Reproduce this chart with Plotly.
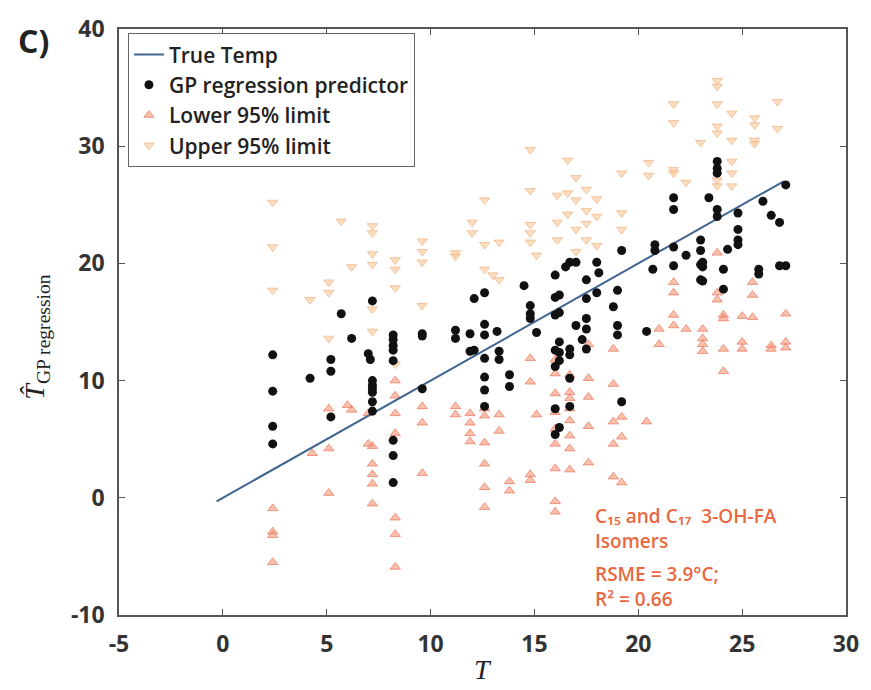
import plotly.graph_objects as go

# ---------------- data ----------------
true_x = [-0.3, 27.0]
true_y = [-0.3, 27.0]

gp_x = [2.4, 2.4, 2.4, 2.4, 4.2, 5.2, 5.2, 5.2, 5.7, 6.2, 7.0, 7.1,
        7.2, 7.2, 7.2, 7.2, 7.2, 7.2, 7.2,
        8.2, 8.2, 8.2, 8.2, 8.2, 8.2, 8.2, 8.2,
        9.6, 9.6, 9.6, 11.2, 11.2, 11.9, 11.9, 12.1, 12.1,
        12.6, 12.6, 12.6, 12.6, 12.6, 12.6, 12.6,
        13.2, 13.3, 13.3, 13.8, 13.8, 14.5, 14.8, 14.8, 14.8, 15.1,
        16.0, 16.0, 16.0, 16.0, 16.0, 16.0, 16.0,
        16.2, 16.2, 16.2, 16.2, 16.2, 16.2, 16.5,
        16.7, 16.7, 16.7, 16.7, 16.7, 17.0, 17.0, 17.3,
        17.5, 17.5, 17.5, 17.5, 17.5, 18.0, 18.0, 18.1, 18.8,
        19.0, 19.0, 19.0, 19.2, 19.2, 20.4, 20.7, 20.8, 20.8,
        21.7, 21.7, 21.7, 21.7, 22.3,
        23.0, 23.0, 23.0, 23.0, 23.1, 23.1, 23.1, 23.4,
        23.8, 23.8, 23.8, 23.8, 23.8, 24.1, 24.1, 24.3,
        24.8, 24.8, 24.8, 24.8, 25.8, 25.8, 26.0, 26.4, 26.8, 26.8, 27.1, 27.1]
gp_y = [12.2, 9.1, 6.1, 4.6, 10.2, 11.8, 10.8, 6.9, 15.7, 13.6, 12.3, 11.8,
        16.8, 10.0, 9.6, 9.3, 9.0, 8.2, 7.4,
        13.9, 13.5, 13.0, 12.6, 11.7, 4.9, 3.6, 1.3,
        14.0, 13.8, 9.3, 14.3, 13.6, 14.0, 12.5, 17.0, 12.6,
        17.5, 14.8, 13.9, 11.9, 10.3, 9.2, 7.8,
        14.2, 12.5, 11.8, 10.5, 9.5, 18.1, 16.4, 15.7, 15.3, 14.1,
        19.0, 17.1, 15.6, 12.6, 11.2, 7.6, 5.4,
        17.3, 15.8, 13.3, 12.4, 11.7, 6.0, 19.7,
        20.1, 12.7, 12.2, 10.2, 7.8, 20.1, 14.7, 13.5,
        18.6, 17.0, 15.3, 14.4, 12.7, 20.1, 17.5, 19.2, 16.3,
        17.7, 14.7, 13.9, 21.1, 8.2, 14.2, 19.5, 21.6, 21.1,
        25.6, 24.6, 21.4, 19.8, 20.7,
        22.0, 21.1, 19.9, 18.6, 20.1, 19.7, 18.5, 25.6,
        28.7, 28.1, 27.7, 24.6, 24.0, 19.5, 17.8, 21.2,
        24.3, 22.9, 22.0, 21.6, 19.5, 19.1, 25.3, 24.1, 23.5, 19.8, 26.7, 19.8]

low_x = [2.4, 2.4, 2.4, 2.4, 4.3, 5.1, 5.1, 5.1, 6.0, 6.2, 7.0, 7.0,
         7.2, 7.2, 7.2, 7.2, 7.2,
         8.3, 8.3, 8.3, 8.3, 8.3, 8.3, 8.3,
         9.6, 9.6, 9.6, 11.2, 11.2, 11.9, 11.9, 11.9, 11.9,
         12.6, 12.6, 12.6, 12.6, 12.6, 12.6, 13.3, 13.3, 13.8, 13.8,
         14.8, 14.8, 14.8, 14.8, 15.1,
         16.0, 16.0, 16.0, 16.0, 16.0, 16.0, 16.0, 16.0, 16.0,
         16.7, 16.7, 16.7, 16.7, 16.7, 16.7, 16.7, 16.7,
         17.6, 17.6, 17.6, 17.6, 17.6,
         18.8, 18.8, 18.8, 18.8, 18.8, 19.2, 19.2, 19.2, 20.4,
         21.0, 21.0, 21.7, 21.7, 21.7, 21.7, 22.3,
         23.1, 23.1, 23.1, 23.1, 23.8, 23.8, 23.8,
         24.1, 24.1, 24.1, 24.1, 25.0, 25.0, 25.0, 25.5, 25.5, 25.5,
         26.4, 26.4, 27.1, 27.1, 27.1]
low_y = [-0.9, -2.9, -3.2, -5.5, 3.8, 7.6, 4.2, 0.4, 7.9, 7.5, 7.2, 4.6,
         4.4, 2.9, 2.0, 1.2, -0.5,
         10.0, 8.7, 7.2, 5.5, -1.7, -3.1, -5.9,
         7.8, 6.4, 2.1, 7.8, 7.1, 7.2, 6.4, 5.5, 4.8,
         7.6, 7.0, 4.7, 2.9, 0.9, -0.8, 7.1, 5.7, 1.4, 0.6,
         11.9, 9.9, 2.0, 1.5, 7.1,
         11.8, 10.6, 8.9, 7.3, 5.9, 4.6, 2.5, -0.3, -1.2,
         10.5, 9.0, 8.5, 7.6, 6.6, 5.3, 4.2, 2.4,
         13.1, 10.2, 8.6, 6.1, 3.0,
         12.7, 9.7, 6.5, 4.6, 1.8, 6.9, 5.2, 1.3, 6.5,
         14.4, 13.1, 18.4, 17.5, 15.6, 14.7, 14.4,
         14.4, 13.6, 13.1, 12.5, 20.9, 17.5, 16.9,
         15.6, 15.3, 12.7, 10.8, 15.5, 13.3, 12.7, 18.4, 17.3, 15.4,
         13.0, 12.7, 15.7, 13.3, 12.8]

up_x = [2.4, 2.4, 2.4, 4.2, 5.1, 5.1, 5.1, 5.7, 6.2,
        7.2, 7.2, 7.2, 7.2, 7.2, 7.2, 8.3, 8.3, 8.3, 8.3,
        9.6, 9.6, 9.6, 9.6, 11.2, 11.2, 12.0, 12.0, 12.6, 12.6, 12.6,
        13.0, 13.3, 13.3, 14.8, 14.8, 14.8, 14.8, 14.8, 15.1,
        16.1, 16.1, 16.1, 16.6, 16.6, 16.6, 17.0, 17.0, 17.0, 17.0,
        17.5, 17.5, 17.5, 17.5, 18.0, 18.0, 18.0, 19.2, 19.2, 19.2,
        20.5, 20.5, 21.7, 21.7, 21.7, 21.7, 22.3, 23.0,
        23.8, 23.8, 23.8, 23.8, 23.8, 23.8, 23.8,
        24.5, 24.5, 24.5, 24.5, 24.5, 25.6, 25.6, 25.6, 25.6, 26.7, 26.7]
up_y = [25.2, 21.4, 17.7, 16.9, 18.4, 17.5, 13.6, 23.6, 19.7,
        23.2, 22.6, 20.8, 19.9, 16.1, 14.2, 20.3, 19.5, 17.9, 11.4,
        21.9, 21.0, 20.1, 16.4, 20.9, 20.6, 23.5, 22.6, 25.4, 21.6, 19.5,
        19.0, 21.8, 18.6, 29.7, 26.2, 23.3, 22.6, 21.8, 20.7,
        25.8, 23.5, 22.0, 28.8, 26.0, 24.2, 27.3, 25.4, 22.9, 21.0,
        26.3, 24.5, 23.4, 22.0, 25.5, 24.0, 21.5, 27.7, 24.3, 22.9,
        28.6, 27.5, 33.6, 32.0, 28.0, 27.7, 26.9, 30.3,
        35.6, 35.1, 33.6, 31.7, 31.1, 27.1, 26.6,
        32.8, 30.5, 28.7, 27.7, 26.6, 32.4, 30.5, 30.2, 31.8, 33.8, 31.5]

x_ticks = [-5, 0, 5, 10, 15, 20, 25, 30]
x_ticklabels = ["-5", "0", "5", "10", "15", "20", "25", "30"]
y_ticks = [-10, 0, 10, 20, 30, 40]
y_ticklabels = ["-10", "0", "10", "20", "30", "40"]

# ---------------- figure ----------------
fig = go.Figure()

fig.add_trace(go.Scatter(
    x=low_x, y=low_y, mode="markers", name="Lower 95% limit", legendgroup="c", legendrank=3,
    marker=dict(symbol="triangle-up", size=9, color="rgba(244,140,105,0.55)",
                line=dict(color="rgba(232,100,70,0.6)", width=1))))
fig.add_trace(go.Scatter(
    x=up_x, y=up_y, mode="markers", name="Upper 95% limit", legendgroup="d", legendrank=4,
    marker=dict(symbol="triangle-down", size=9, color="rgba(247,195,140,0.55)",
                line=dict(color="rgba(235,170,120,0.6)", width=1))))
fig.add_trace(go.Scatter(
    x=true_x, y=true_y, mode="lines", name="True Temp", legendgroup="a", legendrank=1,
    line=dict(color="#3f6590", width=2)))
fig.add_trace(go.Scatter(
    x=gp_x, y=gp_y, mode="markers", name="GP regression predictor", legendgroup="b", legendrank=2,
    marker=dict(symbol="circle", size=9, color="#111111")))

tickfont = dict(family="Open Sans", size=23, color="#333333", weight=700)
axis_common = dict(showline=True, linecolor="#555555", linewidth=1.5, mirror="ticks",
                   ticks="inside", ticklen=6, tickcolor="#555555", showgrid=False,
                   zeroline=False, tickfont=tickfont, ticklabelstandoff=8)

fig.update_layout(
    width=871, height=690,
    margin=dict(l=119, r=18, t=25, b=75),
    paper_bgcolor="white", plot_bgcolor="white",
    xaxis=dict(range=[-5, 30], tickvals=x_ticks, ticktext=x_ticklabels, **axis_common),
    yaxis=dict(range=[-10, 40], tickvals=y_ticks, ticktext=y_ticklabels, **axis_common),
    legend=dict(x=0.012, y=0.993, xanchor="left", yanchor="top",
                bgcolor="white", bordercolor="#666666", borderwidth=1.2,
                font=dict(family="Open Sans", size=21, color="#222222", weight=600),
                tracegroupgap=0, itemwidth=30),
    showlegend=True,
)

ann_color = "#e9683f"
ann_font = dict(family="Open Sans", size=19, color=ann_color, weight=600)
anns = [
    dict(text="C\u2081\u2085 and C\u2081\u2087  3-OH-FA<br>Isomers", x=598, y=528),
    dict(text="RSME = 3.9°C;<br>R\u00b2 = 0.66", x=598, y=586),
]
for a in anns:
    fig.add_annotation(text=a["text"], xref="paper", yref="paper",
                       x=(a["x"] - 119) / 734, y=(615 - a["y"]) / 590,
                       xanchor="left", yanchor="middle", align="left",
                       showarrow=False, font=ann_font)

# panel label
fig.add_annotation(text="<b>C)</b>", xref="paper", yref="paper",
                   x=(33 - 119) / 734, y=(615 - 37) / 590, xanchor="center", yanchor="middle",
                   showarrow=False, font=dict(family="Open Sans", size=32, color="#222222"))
# x title
fig.add_annotation(text="<i>T</i>", xref="paper", yref="paper",
                   x=0.5, y=(615 - 670) / 590, xanchor="center", yanchor="middle",
                   showarrow=False, font=dict(family="Liberation Serif", size=28, color="#222222"))
# y title
fig.add_annotation(text="<i>T\u0302</i><sub>GP regression</sub>", xref="paper", yref="paper",
                   x=(36 - 119) / 734, y=(615 - 335) / 590, xanchor="center", yanchor="middle",
                   textangle=-90, showarrow=False,
                   font=dict(family="Liberation Serif", size=28, color="#222222"))

fig.write_html("out.html")
